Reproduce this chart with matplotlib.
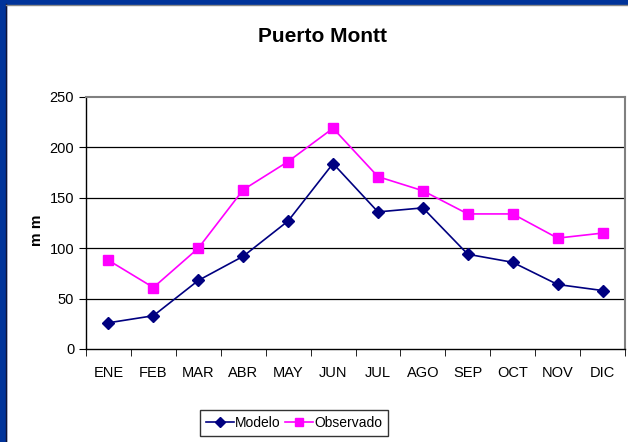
import matplotlib
matplotlib.use("Agg")
import matplotlib.pyplot as plt
from matplotlib.patches import Rectangle

months = ["ENE", "FEB", "MAR", "ABR", "MAY", "JUN", "JUL", "AGO", "SEP", "OCT", "NOV", "DIC"]
modelo = [26, 33, 68, 92, 127, 184, 136, 140, 94, 86, 64, 58]
observado = [88, 61, 100, 158, 186, 219, 171, 157, 134, 134, 110, 115]
y_ticks = [0, 50, 100, 150, 200, 250]

plt.rcParams['font.family'] = ['Liberation Sans', 'DejaVu Sans']

W, H = 628, 442
fig = plt.figure(figsize=(W / 100, H / 100), dpi=100)
fig.patch.set_facecolor('white')

# blue frame
blue = '#00339A'
fig.patches.append(Rectangle((0, 0), 6 / W, 1, transform=fig.transFigure, color=blue, zorder=0))
fig.patches.append(Rectangle((0, 1 - 4 / H), 1, 4 / H, transform=fig.transFigure, color=blue, zorder=0))
fig.lines.append(plt.Line2D([6 / W, 6 / W], [0, 1 - 4 / H], transform=fig.transFigure, color='#111133', lw=1))
fig.lines.append(plt.Line2D([6 / W, 1], [1 - 4.5 / H, 1 - 4.5 / H], transform=fig.transFigure, color='#888888', lw=1))

left, right, top, bottom = 86, 625, 97, 349
ax = fig.add_axes([left / W, 1 - bottom / H, (right - left) / W, (bottom - top) / H])

x = list(range(len(months)))
ax.plot(x, modelo, color='#000080', marker='D', markersize=6, lw=1.2, label='Modelo')
ax.plot(x, observado, color='#FF00FF', marker='s', markersize=7, lw=1.2, label='Observado')

ax.set_xlim(-0.5, len(months) - 0.5)
ax.set_ylim(0, 250)
ax.set_yticks(y_ticks)
ax.set_yticklabels([str(v) for v in y_ticks], fontsize=10.5)
ax.set_xticks(x)
ax.set_xticklabels(months, fontsize=10.5)
ax.tick_params(axis='x', length=0, pad=12)
ax.set_xticks([i - 0.5 for i in range(len(months) + 1)], minor=True)
ax.tick_params(axis='x', which='minor', length=5, direction='out', color='black')
ax.tick_params(axis='y', length=5, direction='out', color='black')

for v in y_ticks[1:-1]:
    ax.axhline(v, color='black', lw=0.9, zorder=0)

for s in ['top', 'right']:
    ax.spines[s].set_color('#808080')
    ax.spines[s].set_linewidth(1.5)
for s in ['left', 'bottom']:
    ax.spines[s].set_color('black')
    ax.spines[s].set_linewidth(1.0)

fig.text(37 / W, 1 - 230 / H, 'm m', rotation=90, ha='center', va='center', fontsize=11, fontweight='bold')

fig.text(322 / W, 1 - 36 / H, 'Puerto Montt', ha='center', va='center', fontsize=15, fontweight='bold')

leg = fig.legend(loc='center', bbox_to_anchor=(294 / W, 1 - 423 / H), ncol=2, fontsize=10,
                 frameon=True, fancybox=False, edgecolor='black', handlelength=2.0,
                 handletextpad=0.1, columnspacing=0.3, borderpad=0.45, markerscale=0.8,
                 borderaxespad=0)
leg.get_frame().set_linewidth(1.0)

fig.savefig('out.png', dpi=100)
